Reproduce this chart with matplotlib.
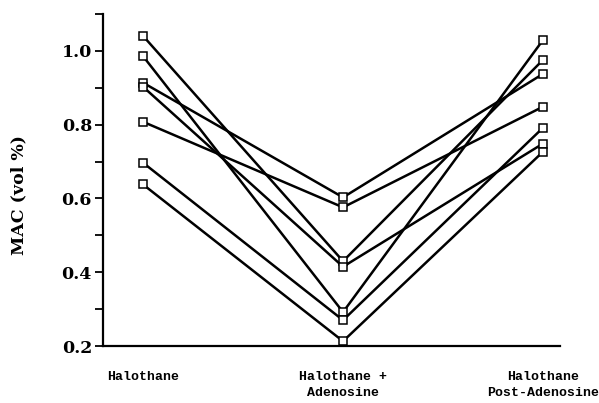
import matplotlib
matplotlib.use('Agg')
import matplotlib.pyplot as plt
import numpy as np

# MAC values per subject: halothane, halothane + adenosine, post-adenosine
conditions = ['Halothane', 'Halothane +\nAdenosine', 'Halothane\nPost-Adenosine']
halothane = [1.041, 0.986, 0.914, 0.903, 0.808, 0.697, 0.638]
with_adenosine = [0.430, 0.292, 0.603, 0.415, 0.576, 0.270, 0.213]
post_adenosine = [0.976, 1.030, 0.938, 0.749, 0.849, 0.792, 0.727]

yticks = [0.2, 0.3, 0.4, 0.5, 0.6, 0.7, 0.8, 0.9, 1.0, 1.1]
ylabels = ['0.2', '', '0.4', '', '0.6', '', '0.8', '', '1.0', '']

fig = plt.figure(figsize=(5.99, 4.03), dpi=100)
ax = fig.add_axes([0.172, 0.1414, 0.763, 0.8236])

xpos = np.arange(len(conditions))
for a, b, c in zip(halothane, with_adenosine, post_adenosine):
    ax.plot(xpos, [a, b, c], color='black', lw=1.8, marker='s', ms=6.2,
            mfc='white', mec='black', mew=1.1, solid_capstyle='butt')

ax.set_xlim(-0.2, 2.085)
ax.set_ylim(0.2, 1.1)

for s in ['top', 'right']:
    ax.spines[s].set_visible(False)
ax.spines['left'].set_linewidth(1.6)
ax.spines['bottom'].set_linewidth(1.6)

ax.set_yticks(yticks)
ax.set_yticklabels(ylabels, fontfamily='DejaVu Serif', fontweight='bold', fontsize=12.5)
ax.tick_params(axis='y', direction='out', length=6, width=1.3, pad=2)

ax.set_xticks(xpos)
ax.set_xticklabels(conditions, fontfamily='Liberation Mono', fontweight='bold',
                   fontsize=9.5, linespacing=1.45, va='top')
ax.tick_params(axis='x', length=0, pad=18)

fig.text(0.032, 0.515, 'MAC (vol %)', rotation=90, ha='center', va='center',
         fontfamily='DejaVu Serif', fontweight='bold', fontsize=12.5)

fig.savefig('out.png', dpi=100)
